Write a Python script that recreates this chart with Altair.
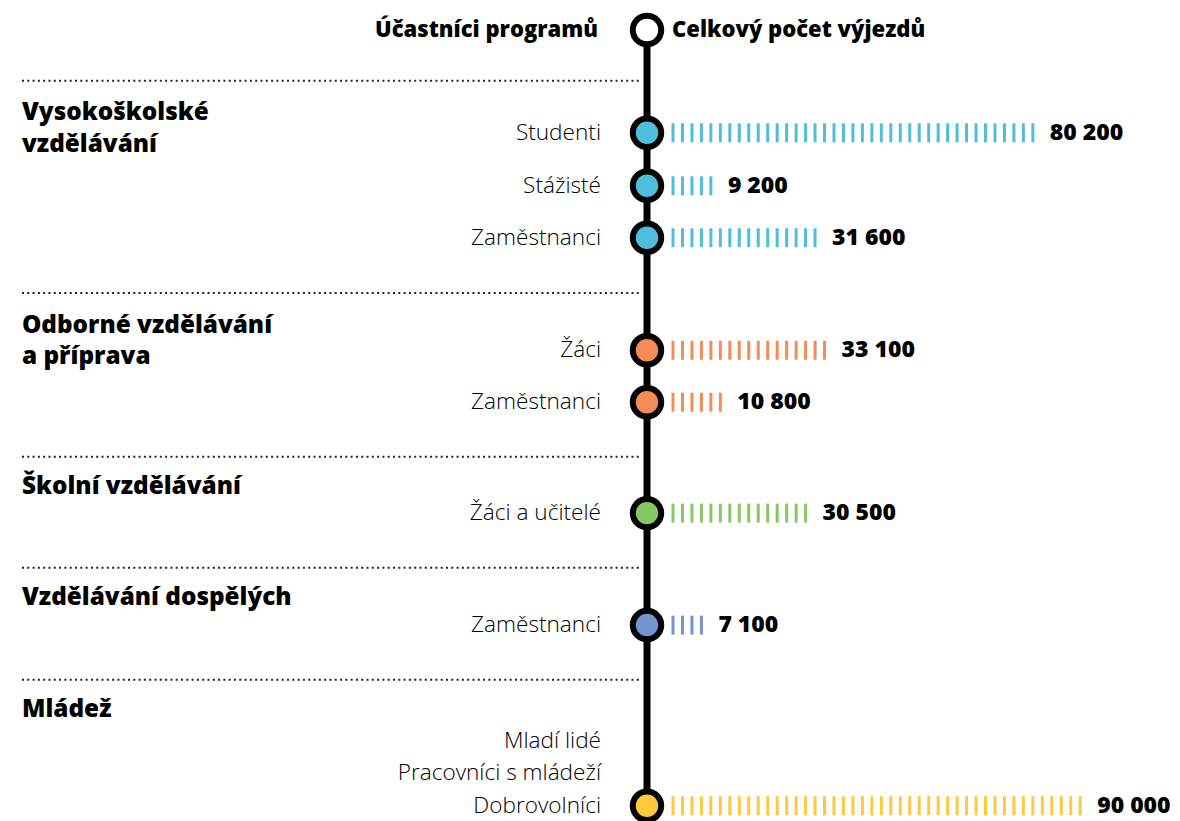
import altair as alt
import pandas as pd

# ---------------- data ----------------
header_left = "Účastníci  programů"
header_right = "Celkový počet výjezdů"

row_names = ["Studenti", "Stážisté", "Zaměstnanci", "Žáci", "Zaměstnanci",
             "Žáci a učitelé", "Zaměstnanci", "Mladí lidé", "Pracovníci s mládeží",
             "Dobrovolníci"]
row_slot = [1.90, 2.88, 3.84, 5.92, 6.88, 8.93, 11.0, 13.14, 13.73, 14.34]

bar_row_index = [0, 1, 2, 3, 4, 5, 6, 9]
values = [80200, 9200, 31600, 33100, 10800, 30500, 7100, 90000]
value_labels = ["80 200", "9 200", "31 600", "33 100", "10 800", "30 500", "7 100", "90 000"]
tick_counts = [39, 5, 16, 17, 6, 15, 4, 44]
bar_colors = ["#4FBEDD", "#4FBEDD", "#4FBEDD", "#F58C55", "#F58C55",
              "#86C862", "#7294CF", "#FFC83D"]

group_lines = ["Vysokoškolské", "vzdělávání", "Odborné vzdělávání", "a příprava",
               "Školní vzdělávání", "Vzdělávání dospělých", "Mládež"]
group_slot = [1.53, 2.12, 5.47, 6.05, 8.45, 10.50, 12.57]

separator_slot = [0.94, 4.86, 7.89, 9.94, 12.01]
header_slot = 0.0

FONT = "Open Sans"

# ---------------- tables ----------------
bars = pd.DataFrame({
    "slot": [row_slot[i] for i in bar_row_index],
    "value": values,
    "label": value_labels,
    "n": tick_counts,
    "color": bar_colors,
})
bars["last"] = bars["n"] - 1
ticks = pd.DataFrame([
    {"k": k, "slot": r.slot, "color": r.color}
    for r in bars.itertuples() for k in range(r.n)
])
circles = pd.concat([
    pd.DataFrame({"slot": [header_slot], "color": ["#FFFFFF"]}),
    bars[["slot", "color"]],
], ignore_index=True)
rows = pd.DataFrame({"name": row_names, "slot": row_slot})
groups = pd.DataFrame({"text": group_lines, "slot": group_slot})
seps = pd.DataFrame({"slot": separator_slot})
heads = pd.DataFrame({"text": [header_left], "slot": [header_slot]})
heads_r = pd.DataFrame({"text": [header_right], "slot": [header_slot]})

W, H = 1164, 813
X0 = -665 / 9.47
X1 = X0 + W / 9.47
Y0 = -22 / 54.1
Y1 = (H - 22) / 54.1
xs = alt.Scale(domain=[X0, X1], nice=False, zero=False)
ys = alt.Scale(domain=[Y0, Y1], nice=False, zero=False, reverse=True)
SPINE_X = 639

spine = alt.Chart(pd.DataFrame({"a": [header_slot], "b": [Y1]})).mark_rule(
    color="black", strokeWidth=7
).encode(x=alt.value(SPINE_X), y=alt.Y("a:Q", scale=ys, axis=None), y2="b:Q")

sep_layer = alt.Chart(seps).mark_rule(
    color="#222222", strokeWidth=2, strokeDash=[2, 3.3]
).encode(x=alt.value(14), x2=alt.value(632), y=alt.Y("slot:Q", scale=ys, axis=None))

tick_layer = alt.Chart(ticks).mark_tick(orient="vertical", size=19, thickness=3, opacity=1).encode(
    x=alt.X("k:Q", scale=xs, axis=None),
    y=alt.Y("slot:Q", scale=ys, axis=None),
    color=alt.Color("color:N", scale=None),
)

circle_layer = alt.Chart(circles).mark_circle(
    size=810, stroke="black", strokeWidth=6, opacity=1
).encode(
    x=alt.value(SPINE_X),
    y=alt.Y("slot:Q", scale=ys, axis=None),
    color=alt.Color("color:N", scale=None),
)

value_layer = alt.Chart(bars).mark_text(
    align="left", baseline="middle", dx=17, font=FONT, fontWeight=800, fontSize=23, color="black"
).encode(
    x=alt.X("last:Q", scale=xs, axis=None),
    y=alt.Y("slot:Q", scale=ys, axis=None),
    text="label:N",
)

row_layer = alt.Chart(rows).mark_text(
    align="right", baseline="middle", font=FONT, fontSize=22.6, fontWeight=300, color="#000000"
).encode(x=alt.value(593), y=alt.Y("slot:Q", scale=ys, axis=None), text="name:N")

group_layer = alt.Chart(groups).mark_text(
    align="left", baseline="middle", font=FONT, fontWeight=800, fontSize=24.3, color="black"
).encode(x=alt.value(14), y=alt.Y("slot:Q", scale=ys, axis=None), text="text:N")

head_l = alt.Chart(heads).mark_text(
    align="right", baseline="middle", font=FONT, fontWeight=800, fontSize=22, color="black"
).encode(x=alt.value(590), y=alt.Y("slot:Q", scale=ys, axis=None), text="text:N")

head_r = alt.Chart(heads_r).mark_text(
    align="left", baseline="middle", font=FONT, fontWeight=800, fontSize=22, color="black"
).encode(x=alt.value(664), y=alt.Y("slot:Q", scale=ys, axis=None), text="text:N")

chart = alt.layer(
    sep_layer, spine, tick_layer, circle_layer, value_layer, row_layer, group_layer, head_l, head_r
).properties(
    width=W, height=H, padding=0, autosize=alt.AutoSizeParams(type="none")
).configure_view(stroke=None, strokeWidth=0)

chart.save("out.html", embed_options={"renderer": "svg", "actions": False})
